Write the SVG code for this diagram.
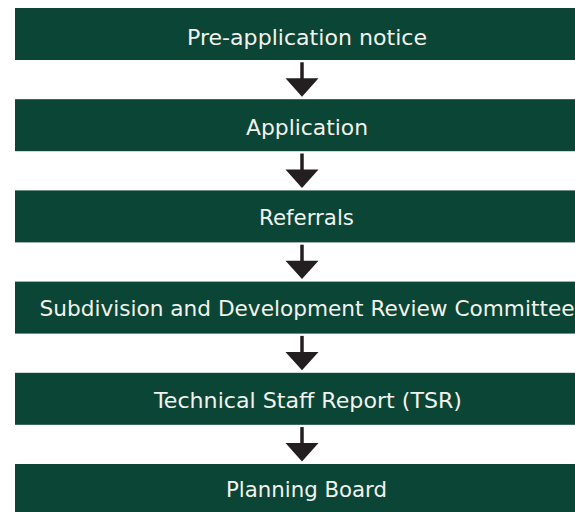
<svg xmlns="http://www.w3.org/2000/svg" width="575" height="512" viewBox="0 0 575 512">
<defs>
<style>
.box{fill:#0b4536}
.lbl{font-family:"DejaVu Sans","Liberation Sans",sans-serif;font-size:21px;fill:#f2f2ec;text-anchor:middle}
.stem{stroke:#231f20;stroke-width:3.5;fill:none}
.head{fill:#231f20}
</style>
</defs>
<rect width="575" height="512" fill="#ffffff"/>
<g id="connectors">
<g transform="translate(0,60)"><line class="stem" x1="302" y1="2.3" x2="302" y2="20"/><polygon class="head" points="285.5,18.3 318.5,18.3 302,36.7"/></g>
<g transform="translate(0,151.2)"><line class="stem" x1="302" y1="2.3" x2="302" y2="20"/><polygon class="head" points="285.5,18.3 318.5,18.3 302,36.7"/></g>
<g transform="translate(0,242.4)"><line class="stem" x1="302" y1="2.3" x2="302" y2="20"/><polygon class="head" points="285.5,18.3 318.5,18.3 302,36.7"/></g>
<g transform="translate(0,333.6)"><line class="stem" x1="302" y1="2.3" x2="302" y2="20"/><polygon class="head" points="285.5,18.3 318.5,18.3 302,36.7"/></g>
<g transform="translate(0,424.8)"><line class="stem" x1="302" y1="2.3" x2="302" y2="20"/><polygon class="head" points="285.5,18.3 318.5,18.3 302,36.7"/></g>
</g>
<g id="n1"><rect class="box" x="15" y="8" width="600" height="52"/><text class="lbl" x="307" y="45" textLength="240" lengthAdjust="spacingAndGlyphs">Pre-application notice</text></g>
<g id="n2"><rect class="box" x="15" y="99.2" width="600" height="52"/><text class="lbl" x="307" y="135" textLength="122" lengthAdjust="spacingAndGlyphs">Application</text></g>
<g id="n3"><rect class="box" x="15" y="190.4" width="600" height="52"/><text class="lbl" x="306.5" y="225" textLength="95" lengthAdjust="spacingAndGlyphs">Referrals</text></g>
<g id="n4"><rect class="box" x="15" y="281.6" width="600" height="52"/><text class="lbl" x="307" y="316" textLength="535" lengthAdjust="spacingAndGlyphs">Subdivision and Development Review Committee</text></g>
<g id="n5"><rect class="box" x="15" y="372.8" width="600" height="52"/><text class="lbl" x="308" y="407.5" textLength="308" lengthAdjust="spacingAndGlyphs">Technical Staff Report (TSR)</text></g>
<g id="n6"><rect class="box" x="15" y="464" width="600" height="52"/><text class="lbl" x="306.5" y="497.3" textLength="161" lengthAdjust="spacingAndGlyphs">Planning Board</text></g>
</svg>
